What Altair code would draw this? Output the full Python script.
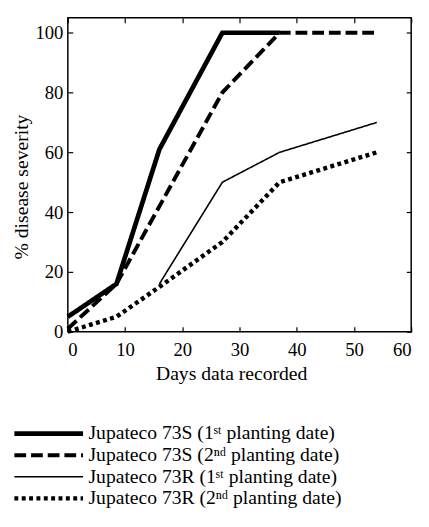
import altair as alt
import pandas as pd

FONT = "'Liberation Serif', 'Times New Roman', serif"

series = [
    "Jupateco 73S (1ˢᵗ planting date)",
    "Jupateco 73S (2ⁿᵈ planting date)",
    "Jupateco 73R (1ˢᵗ planting date)",
    "Jupateco 73R (2ⁿᵈ planting date)",
]

days_s1 = [0, 8.5, 16, 27, 37]
sev_s1 = [5, 16, 61, 100, 100]
days_s2 = [0, 8.5, 27, 37, 54]
sev_s2 = [1, 16, 80, 100, 100]
days_r1 = [16, 27, 37, 54]
sev_r1 = [16, 50, 60, 70]
days_r2 = [0, 8.5, 16, 27, 37, 54]
sev_r2 = [0, 5, 15, 30, 50, 60]

x_ticks = [0, 10, 20, 30, 40, 50, 60]
y_ticks = [0, 20, 40, 60, 80, 100]

rows = []
for name, ds, vs in zip(series, [days_s1, days_s2, days_r1, days_r2], [sev_s1, sev_s2, sev_r1, sev_r2]):
    for d, v in zip(ds, vs):
        rows.append({"series": name, "day": d, "severity": v})
df = pd.DataFrame(rows)

dash_range = [[1, 0], [12, 5], [1, 0], [4, 3.5]]
width_range = [4.8, 4, 1.6, 4.5]

xscale = alt.Scale(domain=[0, 60], nice=False)
yscale = alt.Scale(domain=[0, 105], nice=False)

legend = alt.Legend(
    orient="none", legendX=-57, legendY=413, title=None,
    symbolType="stroke", symbolSize=4900, symbolStrokeColor="black",
    labelFont=FONT, labelFontSize=20, labelColor="black", labelOffset=3,
    labelLimit=400, clipHeight=21.7, rowPadding=0, padding=0,
)

axis_font = dict(labelFont=FONT, titleFont=FONT, labelFontSize=19, titleFontSize=20,
                 titleFontWeight="normal", labelColor="black", titleColor="black",
                 tickColor="black", tickWidth=1.2, grid=False)

base = alt.Chart(df)

lines = base.mark_line(color="black").encode(
    x=alt.X("day:Q", scale=xscale,
            axis=alt.Axis(values=x_ticks, title="Days data recorded", offset=-5, tickSize=5,
                          domain=False, labelPadding=9, titleBaseline="alphabetic",
                          titleX=166.5, titleY=54, **axis_font)),
    y=alt.Y("severity:Q", scale=yscale,
            axis=alt.Axis(values=y_ticks, title="% disease severity", offset=-5, tickSize=5,
                          domain=False, labelPadding=5, titleBaseline="alphabetic",
                          titleAlign="center", titleAngle=-90, titleX=-46, titleY=172, **axis_font)),
    strokeDash=alt.StrokeDash("series:N", scale=alt.Scale(domain=series, range=dash_range), legend=legend),
    strokeWidth=alt.StrokeWidth("series:N", scale=alt.Scale(type="ordinal", domain=series, range=width_range),
                                legend=legend),
)

frame = base.mark_point(opacity=0).encode(
    x=alt.X("day:Q", scale=xscale,
            axis=alt.Axis(orient="top", values=x_ticks, labels=False, title=None, offset=-5,
                          tickSize=5, domain=False, tickColor="black", tickWidth=1.2, grid=False)),
    y=alt.Y("severity:Q", scale=yscale,
            axis=alt.Axis(orient="right", values=y_ticks, labels=False, title=None, offset=-5,
                          tickSize=5, domain=False, tickColor="black", tickWidth=1.2, grid=False)),
)

chart = (
    alt.layer(lines, frame)
    .resolve_axis(x="independent", y="independent")
    .properties(
        width=350, height=320,
        autosize=alt.AutoSizeParams(type="none"),
        padding={"left": 61, "top": 5, "right": 10, "bottom": 190},
    )
    .configure_view(stroke="black", strokeWidth=1.5)
    .configure_axis(
        labelFont=FONT, titleFont=FONT, labelFontSize=19, titleFontSize=20,
        titleFontWeight="normal", grid=False,
    )
    .configure_text(font=FONT)
)

chart.save("out.html", embed_options={"renderer": "svg", "actions": False})
